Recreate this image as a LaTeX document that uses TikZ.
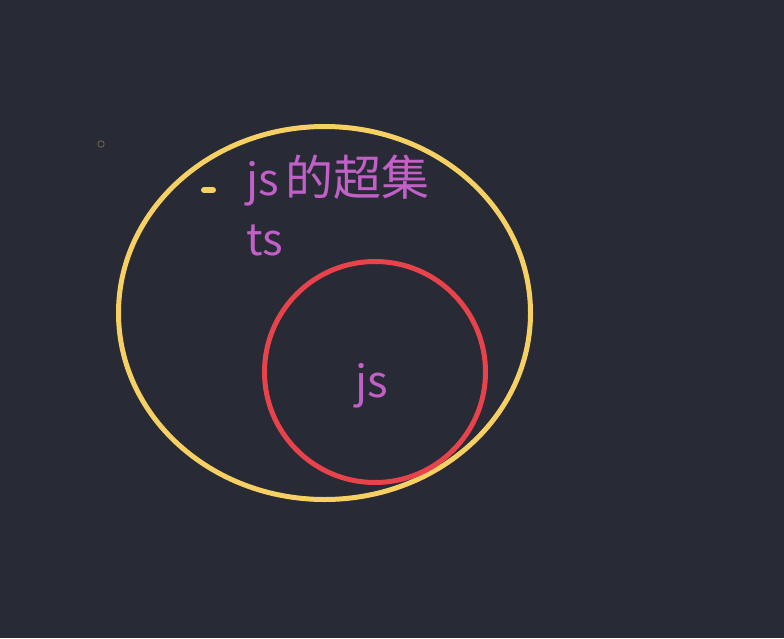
\documentclass[tikz,border=0pt]{standalone}
\usepackage{fontspec}
\newfontfamily\cjk{Noto Sans CJK SC}
\definecolor{bg}{HTML}{282A36}
\definecolor{yel}{HTML}{F6D062}
\definecolor{redc}{HTML}{E8434A}
\definecolor{purp}{HTML}{C160C6}
\definecolor{dotc}{HTML}{6E6650}
\tikzset{
  lbl/.style={text=purp, font=\cjk\fontsize{44}{50}\selectfont, anchor=base west, inner sep=0pt},
  ring/.style={line width=5pt}
}
\begin{document}
\begin{tikzpicture}[x=1pt,y=-1pt]
\fill[bg] (0,0) rectangle (784,638);
\useasboundingbox (0,0) rectangle (784,638);
\draw[ring, yel] (324.5,313) ellipse [x radius=206, y radius=186.5];
\draw[ring, redc] (375,372) circle [radius=110.5];
\draw[dotc, line width=0.8pt] (101,144) circle [radius=3.2];
\draw[yel, line width=6pt, line cap=round] (204,190) -- (213,190);
\node[lbl] (sup) at (246,195) {js\hspace{7pt}{\fontsize{48}{50}\selectfont 的超集}};
\node[lbl] (ts) at (246,255) {ts};
\node[lbl] (js) at (355,397) {js};
\end{tikzpicture}
\end{document}
